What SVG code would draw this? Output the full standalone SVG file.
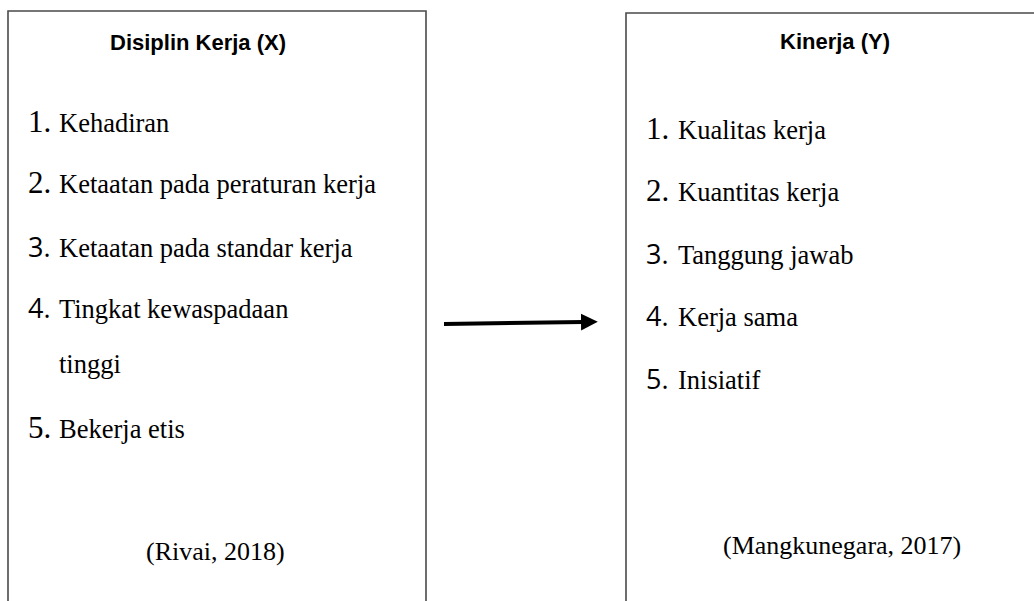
<svg xmlns="http://www.w3.org/2000/svg" width="1034" height="601" viewBox="0 0 1034 601">
<style>
.box{fill:none;stroke:#4a4a4a;stroke-width:1.6}
.title{font-family:"Liberation Sans",Arial,sans-serif;font-weight:bold;font-size:22px;fill:#000}
.item{font-family:"Liberation Serif","Times New Roman",serif;font-size:26.5px;fill:#000}
.numS{font-family:"Liberation Serif","Times New Roman",serif;font-size:31px;fill:#000}
.numC{font-family:"Open Sans","Liberation Sans",sans-serif;font-size:27px;fill:#000}
.cite{font-family:"Liberation Serif","Times New Roman",serif;font-size:26px;fill:#000}
.conn{stroke:#000;stroke-width:4;fill:none}
</style>
<defs>
<marker id="arr" markerWidth="5" markerHeight="5" refX="0.5" refY="2.5" orient="auto" markerUnits="strokeWidth">
<path d="M0,0.4 L4.2,2.5 L0,4.6 Z" fill="#000"/>
</marker>
</defs>
<rect width="1034" height="601" fill="#fff"/>
<g id="node-disiplin">
<path class="box" d="M8,602 L8,11 L426,11 L426,602"/>
<text class="title" x="110" y="50">Disiplin Kerja (X)</text>
<text class="numS" x="28" y="132">1.</text><text class="item" x="59" y="132">Kehadiran</text>
<text class="numS" x="28" y="193">2.</text><text class="item" x="59" y="193">Ketaatan pada peraturan kerja</text>
<text class="numC" x="28" y="257">3.</text><text class="item" x="59" y="257">Ketaatan pada standar kerja</text>
<text class="numC" x="28" y="318">4.</text><text class="item" x="59" y="318">Tingkat kewaspadaan</text>
<text class="item" x="59" y="373">tinggi</text>
<text class="numS" x="28" y="438">5.</text><text class="item" x="59" y="438">Bekerja etis</text>
<text class="cite" x="146" y="560">(Rivai, 2018)</text>
</g>
<g id="node-kinerja">
<path class="box" d="M626,602 L626,13 L1035,13"/>
<text class="title" x="780" y="49">Kinerja (Y)</text>
<text class="numS" x="646" y="139">1.</text><text class="item" x="678" y="139">Kualitas kerja</text>
<text class="numS" x="646" y="201">2.</text><text class="item" x="678" y="201">Kuantitas kerja</text>
<text class="numC" x="646" y="264">3.</text><text class="item" x="678" y="264">Tanggung jawab</text>
<text class="numC" x="646" y="326">4.</text><text class="item" x="678" y="326">Kerja sama</text>
<text class="numC" x="646" y="389">5.</text><text class="item" x="678" y="389">Inisiatif</text>
<text class="cite" x="723" y="554">(Mangkunegara, 2017)</text>
</g>
<g id="connectors">
<path class="conn" d="M444,324 L583,322" marker-end="url(#arr)"/>
</g>
</svg>
